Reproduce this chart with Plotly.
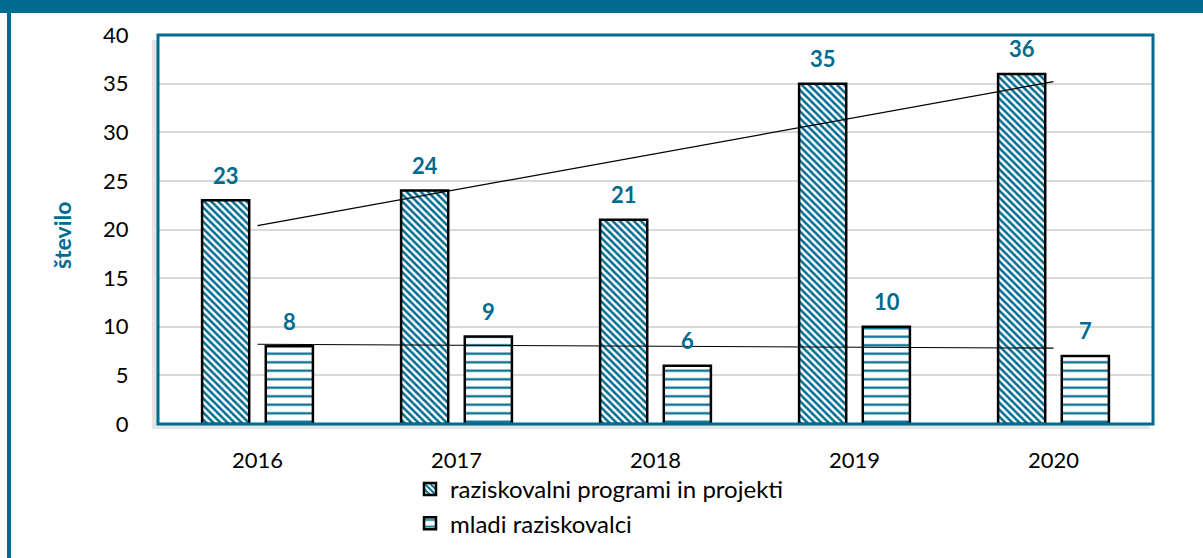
import numpy as np
import plotly.graph_objects as go

years = ["2016", "2017", "2018", "2019", "2020"]
programi = [23, 24, 21, 35, 36]
mladi = [8, 9, 6, 10, 7]
series_names = ["raziskovalni programi in projekti", "mladi raziskovalci"]
y_ticks = [0, 5, 10, 15, 20, 25, 30, 35, 40]

TEAL = "#006B8F"
FONT = "Lato, 'Open Sans', sans-serif"

W, H = 1203, 558
L, R, T, B = 158, 50, 35, 134
PW, PH = W - L - R, H - T - B


def px_x(p):
    return (p - L) / PW


def px_y(p):
    return (H - B - p) / PH


fig = go.Figure()

fig.add_trace(go.Bar(
    x=years, y=programi, name=series_names[0],
    marker=dict(color="white",
                line=dict(color="black", width=2.5),
                pattern=dict(shape="\\", fgcolor=TEAL, bgcolor="white",
                             size=5, solidity=0.5, fillmode="replace",
                             fgopacity=1)),
))
fig.add_trace(go.Bar(
    x=years, y=mladi, name=series_names[1],
    marker=dict(color="white",
                line=dict(color="black", width=2.5),
                pattern=dict(shape="-", fgcolor=TEAL, bgcolor="white",
                             size=8.5, solidity=0.26, fillmode="replace",
                             fgopacity=1)),
))

# linear trendlines
xi = np.arange(1, len(years) + 1)
for vals in (programi, mladi):
    k, n = np.polyfit(xi, vals, 1)
    fig.add_trace(go.Scatter(x=years, y=(k * xi + n).tolist(), mode="lines",
                             line=dict(color="black", width=1.2),
                             showlegend=False, hoverinfo="skip"))

annotations = []
for i, (a, b) in enumerate(zip(programi, mladi)):
    for v, dx in ((a, -32), (b, 32)):
        annotations.append(dict(x=i, y=v, text=f"<b>{v}</b>", showarrow=False,
                                xshift=dx, yshift=25,
                                font=dict(family=FONT, size=22, color=TEAL)))

annotations.append(dict(xref="paper", yref="paper", x=px_x(62), y=px_y(236),
                        xanchor="center", yanchor="middle",
                        text="<b>število</b>", textangle=-90, showarrow=False,
                        font=dict(family=FONT, size=23, color=TEAL)))

shapes = [
    # soft shadow of plot area
    dict(type="rect", xref="paper", yref="paper", x0=px_x(152), x1=px_x(1150),
         y0=px_y(429), y1=px_y(40), fillcolor="rgba(0,0,0,0.10)",
         line=dict(width=0), layer="below"),
    dict(type="rect", xref="paper", yref="paper", x0=0, x1=1, y0=0, y1=1,
         fillcolor="white", line=dict(width=0), layer="below"),
    # plot border
    dict(type="rect", xref="paper", yref="paper", x0=0, x1=1, y0=0, y1=1,
         line=dict(color=TEAL, width=3), layer="above"),
    # outer frame: top bar and left border
    dict(type="rect", xref="paper", yref="paper", x0=px_x(-5), x1=px_x(1210),
         y0=px_y(13), y1=px_y(-5), fillcolor=TEAL, line=dict(width=0)),
    dict(type="rect", xref="paper", yref="paper", x0=px_x(7), x1=px_x(11),
         y0=px_y(565), y1=px_y(0), fillcolor=TEAL, line=dict(width=0)),
]

fig.update_layout(
    width=W, height=H,
    margin=dict(l=L, r=R, t=T, b=B, autoexpand=False),
    paper_bgcolor="white", plot_bgcolor="rgba(0,0,0,0)",
    barmode="group", bargap=0.36, bargroupgap=0.26,
    font=dict(family=FONT, size=22, color="black"),
    showlegend=True,
    legend=dict(x=px_x(410), y=px_y(467), xanchor="left", yanchor="top",
                orientation="v", font=dict(family=FONT, size=24, color="black"),
                bgcolor="rgba(0,0,0,0)", tracegroupgap=0, itemwidth=30),
    annotations=annotations,
    shapes=shapes,
    xaxis=dict(type="category", range=[-0.5, len(years) - 0.5], automargin=False,
               showgrid=False, showline=False, zeroline=False,
               ticks="outside", ticklen=17, tickcolor="rgba(0,0,0,0)",
               tickfont=dict(family=FONT, size=22)),
    yaxis=dict(range=[0, 40], tickvals=y_ticks, showgrid=True, automargin=False,
               gridcolor="#D9D9D9", gridwidth=2, zeroline=False, showline=False,
               ticks="outside", ticklen=24, tickcolor="rgba(0,0,0,0)",
               tickfont=dict(family=FONT, size=22)),
)

fig.write_html("out.html", config={"displayModeBar": False},
               post_script="document.body.style.margin='0';")
